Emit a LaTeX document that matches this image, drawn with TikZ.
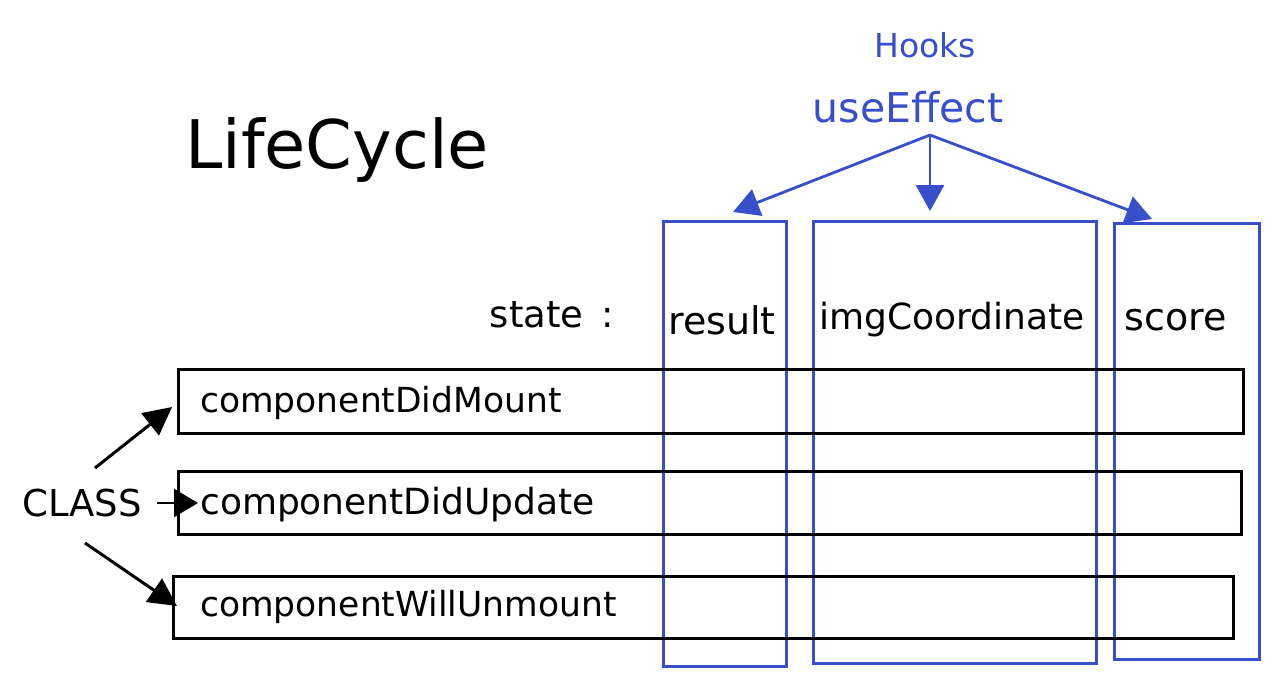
\documentclass[tikz,border=0pt]{standalone}
\usepackage{fontspec}
\setmainfont{DejaVu Sans}
\usetikzlibrary{arrows.meta,positioning}
\definecolor{hookblue}{RGB}{56,79,204}
\tikzset{
  blackbox/.style={draw=black, line width=2.8pt, rectangle, anchor=north west, inner sep=0pt},
  bluebox/.style={draw=hookblue, line width=3pt, rectangle, anchor=north west, inner sep=0pt},
  lbl/.style={font=\fontsize{34.5}{38}\selectfont, text=black, inner sep=0pt},
  collbl/.style={font=\fontsize{36}{40}\selectfont, text=black, inner sep=0pt},
  bluelbl/.style={text=hookblue, inner sep=0pt},
  blackarrow/.style={draw=black, line width=3pt, -{Triangle[length=28pt,width=28pt]}},
  bluearrow/.style={draw=hookblue, line width=2.8pt, -{Triangle[length=26pt,width=28pt]}},
}
\begin{document}
\begin{tikzpicture}[x=1pt,y=-1pt]
\useasboundingbox[fill=white] (0,0) rectangle (1279,683);
% title
\node[lbl, font=\fontsize{67}{72}\selectfont] (title) at (337,150) {LifeCycle};
% hooks labels
\node[bluelbl, font=\fontsize{33}{36}\selectfont] (hooks) at (925,45) {Hooks};
\node[bluelbl, font=\fontsize{41}{44}\selectfont] (ue) at (908,107) {useEffect};
\coordinate (uebot) at (930,135);
% blue columns
\node[bluebox, minimum width=123pt, minimum height=445pt] (res) at (662,220) {};
\node[bluebox, minimum width=283pt, minimum height=442pt] (img) at (812,220) {};
\node[bluebox, minimum width=145pt, minimum height=436pt] (sco) at (1113,222) {};
% state labels
\node[collbl, font=\fontsize{37}{40}\selectfont] (state) at (552,315) {state\hspace{18pt}:};
\node[collbl, font=\fontsize{38}{42}\selectfont] (tres) at (722,320) {result};
\node[collbl] (timg) at (952,320) {imgCoordinate};
\node[collbl, font=\fontsize{38}{42}\selectfont] (tsco) at (1176,320) {score};
% arrow ends
\coordinate (e1) at (733,212);
\coordinate (e2) at (930,211);
\coordinate (e3) at (1152,219);
\draw[bluearrow] (uebot) -- (e1);
\draw[bluearrow] (uebot) -- (e2);
\draw[bluearrow] (uebot) -- (e3);
% black rows
\node[blackbox, minimum width=1065pt, minimum height=64pt] (mount) at (177,368) {};
\node[blackbox, minimum width=1063pt, minimum height=63pt] (update) at (177,470) {};
\node[blackbox, minimum width=1060pt, minimum height=62pt] (unmount) at (172,575) {};
\node[lbl, anchor=west] (tmount) at (200,403) {componentDidMount};
\node[lbl, anchor=west, font=\fontsize{36}{40}\selectfont] (tupdate) at (200,505) {componentDidUpdate};
\node[lbl, anchor=west] (tunmount) at (200,607) {componentWillUnmount};
% CLASS
\node[lbl, font=\fontsize{37}{40}\selectfont] (cls) at (82,503) {CLASS};
\coordinate (s1) at (95,468);
\coordinate (t1) at (172,407);
\coordinate (s2) at (157,503);
\coordinate (t2) at (198,503);
\coordinate (s3) at (85,543);
\coordinate (t3) at (177,606);
\draw[blackarrow] (s1) -- (t1);
\draw[blackarrow, line width=2.4pt, -{Triangle[length=24pt,width=28pt]}] (s2) -- (t2);
\draw[blackarrow] (s3) -- (t3);
\end{tikzpicture}
\end{document}
